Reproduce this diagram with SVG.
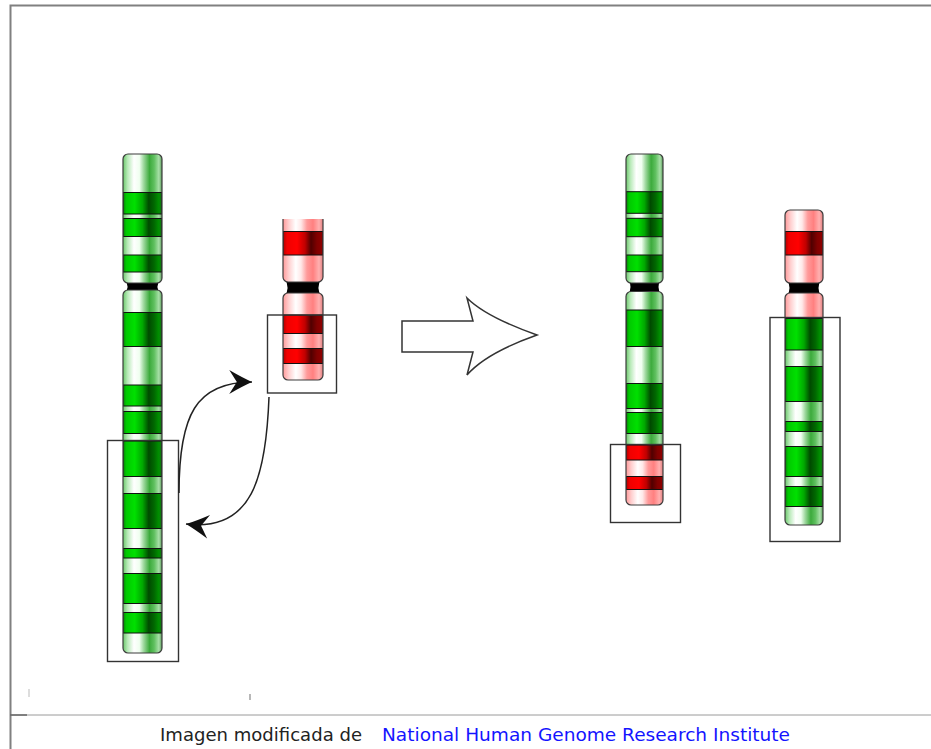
<svg xmlns="http://www.w3.org/2000/svg" width="931" height="749" viewBox="0 0 931 749">
  <defs>
    <!-- band shading runs across the width of each chromatid -->
    <linearGradient id="gDark" x1="0" y1="0" x2="1" y2="0">
      <stop offset="0" stop-color="#0a7a0a"/>
      <stop offset="0.08" stop-color="#00c800"/>
      <stop offset="0.3" stop-color="#00e000"/>
      <stop offset="0.5" stop-color="#00a800"/>
      <stop offset="0.66" stop-color="#004a00"/>
      <stop offset="0.8" stop-color="#006800"/>
      <stop offset="0.92" stop-color="#009000"/>
      <stop offset="1" stop-color="#1a6a1a"/>
    </linearGradient>
    <linearGradient id="gLight" x1="0" y1="0" x2="1" y2="0">
      <stop offset="0" stop-color="#6cc86c"/>
      <stop offset="0.12" stop-color="#b8eab8"/>
      <stop offset="0.28" stop-color="#ffffff"/>
      <stop offset="0.42" stop-color="#f0fff0"/>
      <stop offset="0.53" stop-color="#9ed89e"/>
      <stop offset="0.68" stop-color="#3caa3c"/>
      <stop offset="0.8" stop-color="#60c060"/>
      <stop offset="0.92" stop-color="#a8e0a8"/>
      <stop offset="1" stop-color="#5a9a5a"/>
    </linearGradient>
    <linearGradient id="rDark" x1="0" y1="0" x2="1" y2="0">
      <stop offset="0" stop-color="#b00000"/>
      <stop offset="0.1" stop-color="#f00000"/>
      <stop offset="0.35" stop-color="#ff0000"/>
      <stop offset="0.55" stop-color="#c00000"/>
      <stop offset="0.7" stop-color="#500000"/>
      <stop offset="0.85" stop-color="#800000"/>
      <stop offset="1" stop-color="#900000"/>
    </linearGradient>
    <linearGradient id="rLight" x1="0" y1="0" x2="1" y2="0">
      <stop offset="0" stop-color="#ff9a9a"/>
      <stop offset="0.15" stop-color="#ffd0d0"/>
      <stop offset="0.32" stop-color="#ffffff"/>
      <stop offset="0.45" stop-color="#ffe8e8"/>
      <stop offset="0.6" stop-color="#ff9a9a"/>
      <stop offset="0.75" stop-color="#ff8080"/>
      <stop offset="0.9" stop-color="#ffb0b0"/>
      <stop offset="1" stop-color="#e08080"/>
    </linearGradient>

    <!-- arm outlines used as clips -->
    <clipPath id="clipL">
      <rect x="123" y="154" width="39" height="129" rx="5"/>
      <rect x="123" y="290" width="39" height="363" rx="5"/>
    </clipPath>
    <clipPath id="clipS">
      <rect x="283" y="210" width="40" height="72" rx="5"/>
      <rect x="283" y="293" width="40" height="87" rx="5"/>
    </clipPath>
    <clipPath id="clipR1">
      <rect x="626" y="154" width="37" height="129" rx="5"/>
      <rect x="626" y="291.5" width="37" height="213.5" rx="5"/>
    </clipPath>
    <clipPath id="clipR2">
      <rect x="785" y="210" width="38" height="73" rx="5"/>
      <rect x="785" y="293" width="38" height="232" rx="5"/>
    </clipPath>

    <marker id="barb" markerUnits="userSpaceOnUse" markerWidth="26" markerHeight="26" viewBox="-22 -12 24 24" refX="0" refY="0" orient="auto">
      <path d="M0,0 Q-9,-4 -21,-11 L-14,0 L-21,11 Q-9,4 0,0 Z" fill="#111"/>
    </marker>

    <style>
      .lt { fill: url(#gLight); }
      .dk { fill: url(#gDark); stroke: #111; stroke-width: 1; }
      .pl { fill: url(#rLight); }
      .rd { fill: url(#rDark); stroke: #111; stroke-width: 1; }
      .cen { fill: #000; }
      .outline { fill: none; stroke: #3c3c3c; stroke-width: 1.2; }
      .box { fill: none; stroke: #333; stroke-width: 1.4; }
      .link { fill: none; stroke: #222; stroke-width: 1.5; }
      .frame { stroke: #808080; stroke-width: 2; fill: none; }
      .cap { font-family: "DejaVu Sans", "Liberation Sans", sans-serif; font-size: 17px; }
    </style>
  </defs>

  <rect x="0" y="0" width="931" height="749" fill="#ffffff"/>

  <!-- page frame -->
  <g id="frame">
    <path class="frame" d="M10.5,749 V5.5 H931"/>
    <line x1="10" y1="715" x2="931" y2="715" stroke="#9a9a9a" stroke-width="1"/>
    <line x1="10" y1="715" x2="27" y2="715" stroke="#666" stroke-width="1.5"/>
    <line x1="29" y1="689" x2="29" y2="697" stroke="#bbb" stroke-width="1"/>
    <line x1="250" y1="694" x2="250" y2="700" stroke="#888" stroke-width="1.2"/>
  </g>

  <!-- left: green chromosome -->
  <g id="chrom-green">
    <path class="cen" d="M125,280 L160,280 Q155,286.5 160,293 L125,293 Q130,286.5 125,280 Z"/>
    <g clip-path="url(#clipL)">
      <rect class="lt" x="123" y="154" width="39" height="129"/>
      <rect class="lt" x="123" y="290" width="39" height="363"/>
      <rect class="dk" x="123" y="192.5" width="39" height="21.5"/>
      <rect class="dk" x="123" y="218.5" width="39" height="18"/>
      <rect class="dk" x="123" y="255" width="39" height="17"/>
      <rect class="dk" x="123" y="312.5" width="39" height="34"/>
      <rect class="dk" x="123" y="385" width="39" height="21"/>
      <rect class="dk" x="123" y="411.5" width="39" height="22"/>
      <rect class="dk" x="123" y="441" width="39" height="35.5"/>
      <rect class="dk" x="123" y="493.5" width="39" height="35"/>
      <rect class="dk" x="123" y="548.5" width="39" height="9.5"/>
      <rect class="dk" x="123" y="573.5" width="39" height="30"/>
      <rect class="dk" x="123" y="612.5" width="39" height="20.5"/>
    </g>
    <rect class="outline" x="123" y="154" width="39" height="129" rx="5"/>
    <rect class="outline" x="123" y="290" width="39" height="363" rx="5"/>
  </g>

  <!-- left: red chromosome -->
  <g id="chrom-red">
    <path class="cen" d="M285,279 L321,279 Q316,287.5 321,296 L285,296 Q290,287.5 285,279 Z"/>
    <g clip-path="url(#clipS)">
      <rect class="pl" x="283" y="219" width="40" height="63"/>
      <rect class="pl" x="283" y="293" width="40" height="87"/>
      <rect class="rd" x="283" y="231.5" width="40" height="23.5"/>
      <rect class="rd" x="283" y="315" width="40" height="18.5"/>
      <rect class="rd" x="283" y="348.5" width="40" height="15"/>
    </g>
    <path class="outline" d="M283,219 V277 A5,5 0 0 0 288,282 H318 A5,5 0 0 0 323,277 V219"/>
    <rect class="outline" x="283" y="293" width="40" height="87" rx="5"/>
  </g>

  <!-- right: green chromosome carrying the red segment -->
  <g id="chrom-green-derived">
    <path class="cen" d="M628,280 L661,280 Q656,287 661,294.5 L628,294.5 Q633,287 628,280 Z"/>
    <g clip-path="url(#clipR1)">
      <rect class="lt" x="626" y="154" width="37" height="129"/>
      <rect class="lt" x="626" y="291.5" width="37" height="153.5"/>
      <rect class="pl" x="626" y="445" width="37" height="60"/>
      <rect class="dk" x="626" y="191.7" width="37" height="21.6"/>
      <rect class="dk" x="626" y="218.3" width="37" height="18.4"/>
      <rect class="dk" x="626" y="255" width="37" height="16.7"/>
      <rect class="dk" x="626" y="310" width="37" height="36.5"/>
      <rect class="dk" x="626" y="383.5" width="37" height="25"/>
      <rect class="dk" x="626" y="412.5" width="37" height="21"/>
      <rect class="rd" x="626" y="445" width="37" height="15"/>
      <rect class="rd" x="626" y="476.5" width="37" height="13"/>
    </g>
    <rect class="outline" x="626" y="154" width="37" height="129" rx="5"/>
    <rect class="outline" x="626" y="291.5" width="37" height="213.5" rx="5"/>
  </g>

  <!-- right: red chromosome carrying the green segment -->
  <g id="chrom-red-derived">
    <path class="cen" d="M787,280 L821,280 Q816,288 821,296 L787,296 Q792,288 787,280 Z"/>
    <g clip-path="url(#clipR2)">
      <rect class="pl" x="785" y="210" width="38" height="73"/>
      <rect class="pl" x="785" y="293" width="38" height="25.5"/>
      <rect class="lt" x="785" y="318.5" width="38" height="206.5"/>
      <rect class="rd" x="785" y="231.5" width="38" height="23.5"/>
      <rect class="dk" x="785" y="318.5" width="38" height="31.5"/>
      <rect class="dk" x="785" y="366.5" width="38" height="35"/>
      <rect class="dk" x="785" y="421.5" width="38" height="10"/>
      <rect class="dk" x="785" y="446.5" width="38" height="30"/>
      <rect class="dk" x="785" y="486.5" width="38" height="20"/>
    </g>
    <rect class="outline" x="785" y="210" width="38" height="73" rx="5"/>
    <rect class="outline" x="785" y="293" width="38" height="232" rx="5"/>
  </g>

  <!-- selection boxes around the exchanged segments -->
  <g id="boxes">
    <rect id="box-green-q" class="box" x="107.5" y="440.5" width="71" height="221"/>
    <rect id="box-red-q" class="box" x="267.5" y="315" width="69" height="78"/>
    <rect id="box-derived-1" class="box" x="610.5" y="444.5" width="70" height="78"/>
    <rect id="box-derived-2" class="box" x="770" y="317.5" width="70" height="224"/>
  </g>

  <!-- exchange arrows and the result arrow -->
  <g id="connectors">
    <path class="link" d="M179,493 C179,415 196,382 252,382" marker-end="url(#barb)"/>
    <path class="link" d="M269,397 C266,478 252,532 186,524" marker-end="url(#barb)"/>
    <path id="result-arrow" d="M402,321 L473,321 L467,298 Q486,317 537,335 Q486,353 467,375 L473,352 L402,352 Z" fill="#fff" stroke="#333" stroke-width="1.5" stroke-linejoin="miter"/>
  </g>

  <!-- source credit -->
  <g id="caption">
    <text class="cap" x="160" y="741" fill="#222" textLength="202" lengthAdjust="spacingAndGlyphs">Imagen modificada de</text>
    <text class="cap" x="382" y="741" fill="#1414ff" textLength="408" lengthAdjust="spacingAndGlyphs">National Human Genome Research Institute</text>
  </g>
</svg>
